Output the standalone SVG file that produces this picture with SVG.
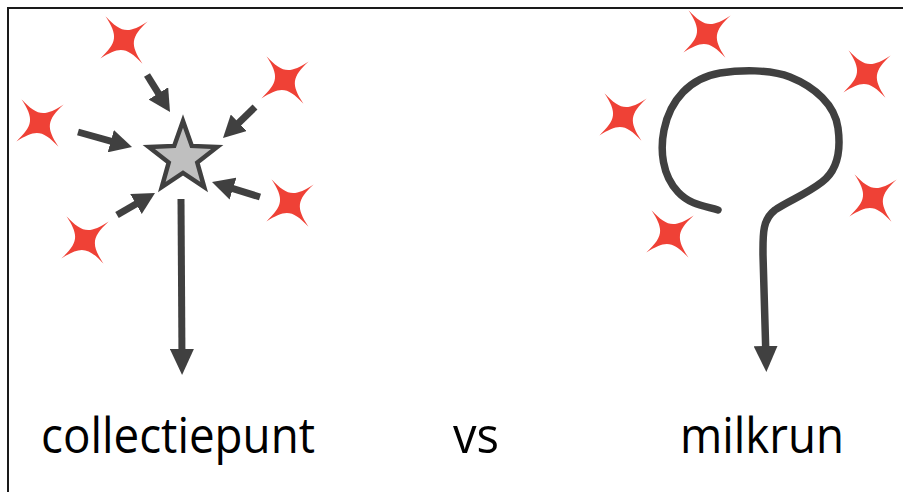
<svg xmlns="http://www.w3.org/2000/svg" width="903" height="492" viewBox="0 0 903 492">
<style>
.spark{fill:#EF4136}
.conn{fill:none;stroke:#404040;stroke-width:7}
.lbl{font-family:"Open Sans","Liberation Sans",sans-serif;font-size:49px;fill:#000}
</style>
<defs>
<path id="sp" transform="rotate(52)" d="M0,-30 C2,-7 7,-2 30,0 C7,2 2,7 0,30 C-2,7 -7,2 -30,0 C-7,-2 -2,-7 0,-30 Z"/>
<marker id="ahS" markerUnits="userSpaceOnUse" markerWidth="22" markerHeight="23" refX="11" refY="11.5" orient="auto">
<path d="M0,0 L22,11.5 L0,23 Z" fill="#404040"/>
</marker>
<marker id="ahL" markerUnits="userSpaceOnUse" markerWidth="26" markerHeight="24" refX="13" refY="12" orient="auto">
<path d="M0,0 L26,12 L0,24 Z" fill="#404040"/>
</marker>
</defs>
<rect x="8" y="8" width="900" height="490" fill="#fff" stroke="#1a1a1a" stroke-width="2"/>

<g id="sources-left">
<use id="s1" href="#sp" class="spark" x="124" y="40"/>
<use id="s2" href="#sp" class="spark" x="40" y="123"/>
<use id="s3" href="#sp" class="spark" x="285" y="80"/>
<use id="s4" href="#sp" class="spark" x="290" y="203"/>
<use id="s5" href="#sp" class="spark" x="85" y="240"/>
</g>
<g id="hub">
<polygon points="183,121 191.8,145.9 217.2,146.9 197.3,162.6 204.2,187.1 183,173 161.8,187.1 168.7,162.6 148.8,146.9 174.2,145.9" fill="#bfbfbf" stroke="#404040" stroke-width="4.5" stroke-linejoin="miter"/>
</g>
<g id="sources-right">
<use id="r1" href="#sp" class="spark" x="707" y="34"/>
<use id="r2" href="#sp" class="spark" x="623" y="117"/>
<use id="r3" href="#sp" class="spark" x="867" y="74"/>
<use id="r4" href="#sp" class="spark" x="873" y="198"/>
<use id="r5" href="#sp" class="spark" x="670" y="234"/>
</g>

<g id="connectors">
<line class="conn" x1="147" y1="75" x2="164.2" y2="102.7" marker-end="url(#ahS)"/>
<line class="conn" x1="78" y1="132" x2="121.4" y2="144.1" marker-end="url(#ahS)"/>
<line class="conn" x1="255" y1="107" x2="230.9" y2="130.4" marker-end="url(#ahS)"/>
<line class="conn" x1="260" y1="197" x2="222.5" y2="185.3" marker-end="url(#ahS)"/>
<line class="conn" x1="117" y1="215" x2="145.5" y2="198.5" marker-end="url(#ahS)"/>
<line class="conn" x1="181" y1="199" x2="182" y2="362" marker-end="url(#ahL)"/>
<path class="conn" style="stroke-width:7.5" stroke-linecap="round" stroke-linejoin="round" d="M718,210 C705,206 690,205 678,192 C662,175 660,150 664,130 C670,100 690,78 720,73 C740,70 770,69 790,77 C815,87 835,105 838,128 C841,150 838,170 822,182 C805,195 790,200 775,210 C762,220 763,235 763,255 L766,359" marker-end="url(#ahL)"/>
</g>

<g id="labels">
<text class="lbl" x="41" y="453" textLength="274" lengthAdjust="spacingAndGlyphs">collectiepunt</text>
<text class="lbl" x="453" y="453" textLength="46" lengthAdjust="spacingAndGlyphs">vs</text>
<text class="lbl" x="680" y="453" textLength="164" lengthAdjust="spacingAndGlyphs">milkrun</text>
</g>
</svg>
